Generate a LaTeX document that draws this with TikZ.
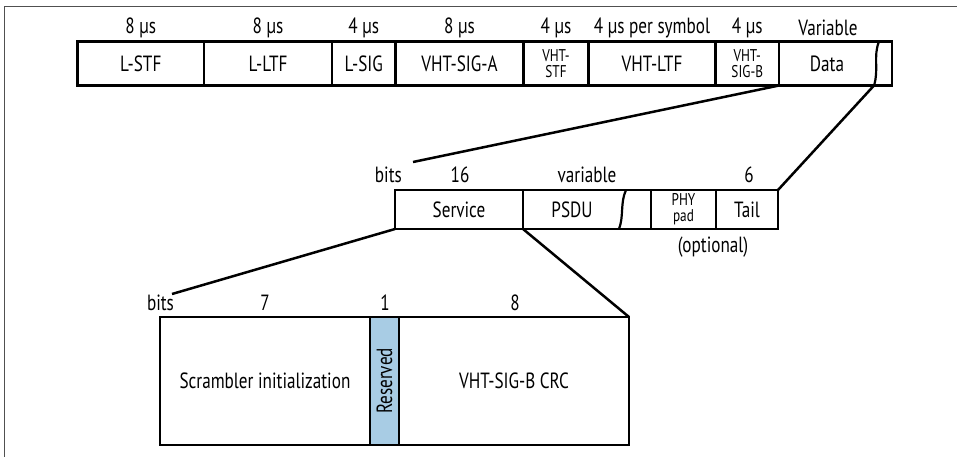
\documentclass[tikz,border=0pt]{standalone}
\usepackage{fontspec}
\setmainfont[FakeStretch=0.78]{PT Sans}
\definecolor{resblue}{RGB}{168,204,228}
\definecolor{framegray}{RGB}{80,80,80}
\begin{document}
\begin{tikzpicture}[x=1pt,y=-1pt,
  fld/.style={draw, line width=2.5pt, outer sep=0pt, inner sep=0pt, anchor=north west, align=center, font=\fontsize{22}{22}\selectfont},
  small/.style={font=\fontsize{17}{16}\selectfont},
  lbl/.style={inner sep=0pt, font=\fontsize{22}{22}\selectfont},
  conn/.style={line width=2.5pt}]
\useasboundingbox (0,0) rectangle (957,457);
\draw[framegray, line width=1.6pt] (4.5,458) -- (4.5,6.5) -- (958,6.5);

% top row
\node[fld, minimum width=126.5, minimum height=44] (lstf) at (77.5,41.5) {L-STF};
\node[fld, minimum width=128, minimum height=44] (lltf) at (204,41.5) {L-LTF};
\node[fld, minimum width=63.5, minimum height=44] (lsig) at (332,41.5) {L-SIG};
\node[fld, minimum width=128, minimum height=44] (vsiga) at (395.5,41.5) {VHT-SIG-A};
\node[fld, small, minimum width=65, minimum height=44] (vstf) at (523.5,41.5) {VHT-\\STF};
\node[fld, minimum width=127, minimum height=44] (vltf) at (588.5,41.5) {VHT-LTF};
\node[fld, small, minimum width=63.5, minimum height=44] (vsigb) at (715.5,41.5) {VHT-\\SIG-B};
\node[fld, minimum width=113, minimum height=44] (data) at (779,41.5) {};
\node[lbl] at (827,63.5) {Data};
\coordinate (dtop) at (879,41.5);
\coordinate (dbot) at (874,85.5);
\draw[line width=2.2pt] (dtop) .. controls (873,56) and (879,70) .. (dbot);

\node[lbl] at (lstf.north |- 0,28) {8 µs};
\node[lbl] at (lltf.north |- 0,28) {8 µs};
\node[lbl] at (lsig.north |- 0,28) {4 µs};
\node[lbl] at (vsiga.north |- 0,28) {8 µs};
\node[lbl] at (vstf.north |- 0,28) {4 µs};
\node[lbl] at (vltf.north |- 0,28) {4 µs per symbol};
\node[lbl] at (vsigb.north |- 0,28) {4 µs};
\node[lbl] at (828,28) {Variable};

% middle row
\node[fld, minimum width=128, minimum height=39] (service) at (395,190) {Service};
\node[fld, minimum width=128, minimum height=39] (psdu) at (523,190) {};
\node[lbl] at (572,209.5) {PSDU};
\coordinate (ptop) at (626,190);
\coordinate (pbot) at (619,229);
\draw[line width=2.2pt] (ptop) .. controls (620,203) and (624,216) .. (pbot);
\node[fld, small, minimum width=65, minimum height=39] (phypad) at (651,190) {PHY\\pad};
\node[fld, minimum width=62, minimum height=39] (tail) at (716,190) {Tail};

\node[lbl, anchor=east] at (402,175) {bits};
\node[lbl] at (460,175) {16};
\node[lbl] at (587,175) {variable};
\node[lbl] at (749,175) {6};
\node[lbl] at (713,247) {(optional)};

% bottom row
\node[fld, minimum width=210, minimum height=128] (scr) at (160,317) {Scrambler initialization};
\node[fld, fill=resblue, minimum width=29, minimum height=128] (res) at (370,317) {};
\node[lbl, rotate=90] at (res.center) {Reserved};
\node[fld, minimum width=230, minimum height=128] (crc) at (399,317) {VHT-SIG-B CRC};

\node[lbl] at (160.5,303) {bits};
\node[lbl] at (265,303) {7};
\node[lbl] at (385,303) {1};
\node[lbl] at (515,303) {8};

% connectors
\coordinate (c1) at (413,162);
\coordinate (c3) at (172,294);
\draw[conn] (vsigb.south east) -- (c1);
\draw[conn] (tail.north east) -- (dbot);
\draw[conn] (service.south west) -- (c3);
\draw[conn] (psdu.south west) -- (crc.north east);
\end{tikzpicture}
\end{document}
